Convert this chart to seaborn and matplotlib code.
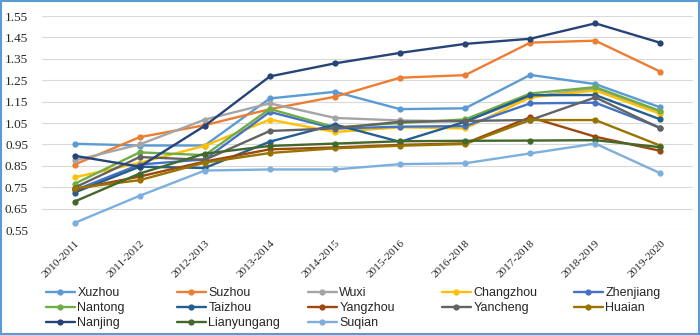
import matplotlib
matplotlib.use("Agg")
import matplotlib.pyplot as plt
import seaborn as sns
import pandas as pd
from matplotlib.patches import Rectangle

periods = ["2010-2011", "2011-2012", "2012-2013", "2013-2014", "2014-2015",
           "2015-2016", "2016-2018", "2017-2018", "2018-2019", "2019-2020"]

Xuzhou      = [0.953, 0.945, 0.945, 1.165, 1.196, 1.115, 1.119, 1.275, 1.232, 1.123]
Suzhou      = [0.856, 0.984, 1.040, 1.115, 1.173, 1.262, 1.274, 1.426, 1.435, 1.290]
Wuxi        = [0.875, 0.950, 1.066, 1.142, 1.074, 1.062, 1.058, 1.172, 1.212, 1.100]
Changzhou   = [0.796, 0.864, 0.944, 1.066, 1.008, 1.030, 1.025, 1.170, 1.202, 1.093]
Zhenjiang   = [0.735, 0.856, 0.880, 1.102, 1.024, 1.033, 1.036, 1.142, 1.145, 1.028]
Nantong     = [0.766, 0.913, 0.900, 1.116, 1.030, 1.050, 1.067, 1.188, 1.218, 1.106]
Taizhou     = [0.725, 0.846, 0.840, 0.963, 1.043, 0.962, 1.056, 1.180, 1.181, 1.067]
Yangzhou    = [0.740, 0.800, 0.870, 0.927, 0.936, 0.948, 0.955, 1.077, 0.986, 0.920]
Yancheng    = [0.748, 0.891, 0.878, 1.013, 1.025, 1.056, 1.060, 1.064, 1.170, 1.025]
Huaian      = [0.745, 0.783, 0.865, 0.910, 0.932, 0.944, 0.952, 1.064, 1.064, 0.944]
Nanjing     = [0.897, 0.846, 1.037, 1.268, 1.329, 1.378, 1.420, 1.444, 1.516, 1.425]
Lianyungang = [0.683, 0.814, 0.907, 0.943, 0.954, 0.965, 0.967, 0.968, 0.970, 0.937]
Suqian      = [0.583, 0.710, 0.828, 0.833, 0.833, 0.858, 0.862, 0.908, 0.954, 0.815]

cities = ["Xuzhou", "Suzhou", "Wuxi", "Changzhou", "Zhenjiang", "Nantong", "Taizhou",
          "Yangzhou", "Yancheng", "Huaian", "Nanjing", "Lianyungang", "Suqian"]
series = [Xuzhou, Suzhou, Wuxi, Changzhou, Zhenjiang, Nantong, Taizhou,
          Yangzhou, Yancheng, Huaian, Nanjing, Lianyungang, Suqian]
colors = ["#5B9BD5", "#ED7D31", "#A5A5A5", "#FFC000", "#4472C4", "#70AD47", "#255E91",
          "#9E480E", "#636363", "#997300", "#264478", "#43682B", "#7CAFDD"]

rows = []
for c, vals in zip(cities, series):
    for p, v in zip(periods, vals):
        rows.append({"Period": p, "City": c, "Value": v})
df = pd.DataFrame(rows)

sns.set_style("white")
plt.rcParams['font.family'] = ['Liberation Serif', 'DejaVu Serif']

fig = plt.figure(figsize=(7.0, 3.35), dpi=100)
ax = fig.add_axes([0.06, 0.3134, 0.93, 0.6386])

sns.lineplot(data=df, x="Period", y="Value", hue="City", hue_order=cities,
             palette=colors, marker="o", markersize=4.5, markeredgewidth=0,
             linewidth=1.7, ax=ax, sort=False, legend=True)

ax.set_xlim(-0.5, len(periods) - 0.5)
ax.set_ylim(0.55, 1.55)
yt = [0.55 + 0.1 * i for i in range(11)]
ax.set_yticks(yt)
ax.set_yticklabels([f"{t:.2f}" for t in yt], fontsize=9.5, color="#262626")
ax.set_xticks(range(len(periods)))
ax.set_xticklabels(periods, rotation=45, ha="right", rotation_mode="anchor",
                   fontsize=8.2, color="#262626")
ax.tick_params(axis="y", length=0, pad=10)
ax.tick_params(axis="x", length=0, pad=6)
ax.yaxis.grid(True, color="#D9D9D9", linewidth=0.8)
ax.set_axisbelow(True)
for s in ax.spines.values():
    s.set_visible(False)
ax.set_xlabel("")
ax.set_ylabel("")

handles, labels = ax.get_legend_handles_labels()
ax.get_legend().remove()
hmap = dict(zip(labels, handles))

# Legend laid out row-major in 5 equally spaced columns
col_x = [46, 177, 308, 442, 574]
ncol = 5
for ci, x0 in enumerate(col_x):
    names = cities[ci::ncol]
    fig.legend([hmap[n] for n in names], names, loc="upper left",
               bbox_to_anchor=(x0 / 700, 1 - 287 / 335), frameon=False,
               prop={"family": "Liberation Sans", "size": 9},
               handlelength=2.3, handletextpad=0.2, labelspacing=0.25,
               borderpad=0, borderaxespad=0)

fig.patches.append(Rectangle((0.002, 0.003), 0.996, 0.994, transform=fig.transFigure,
                             fill=False, edgecolor="#5B9BD5", linewidth=1.5))

fig.savefig("out.png", dpi=100)
